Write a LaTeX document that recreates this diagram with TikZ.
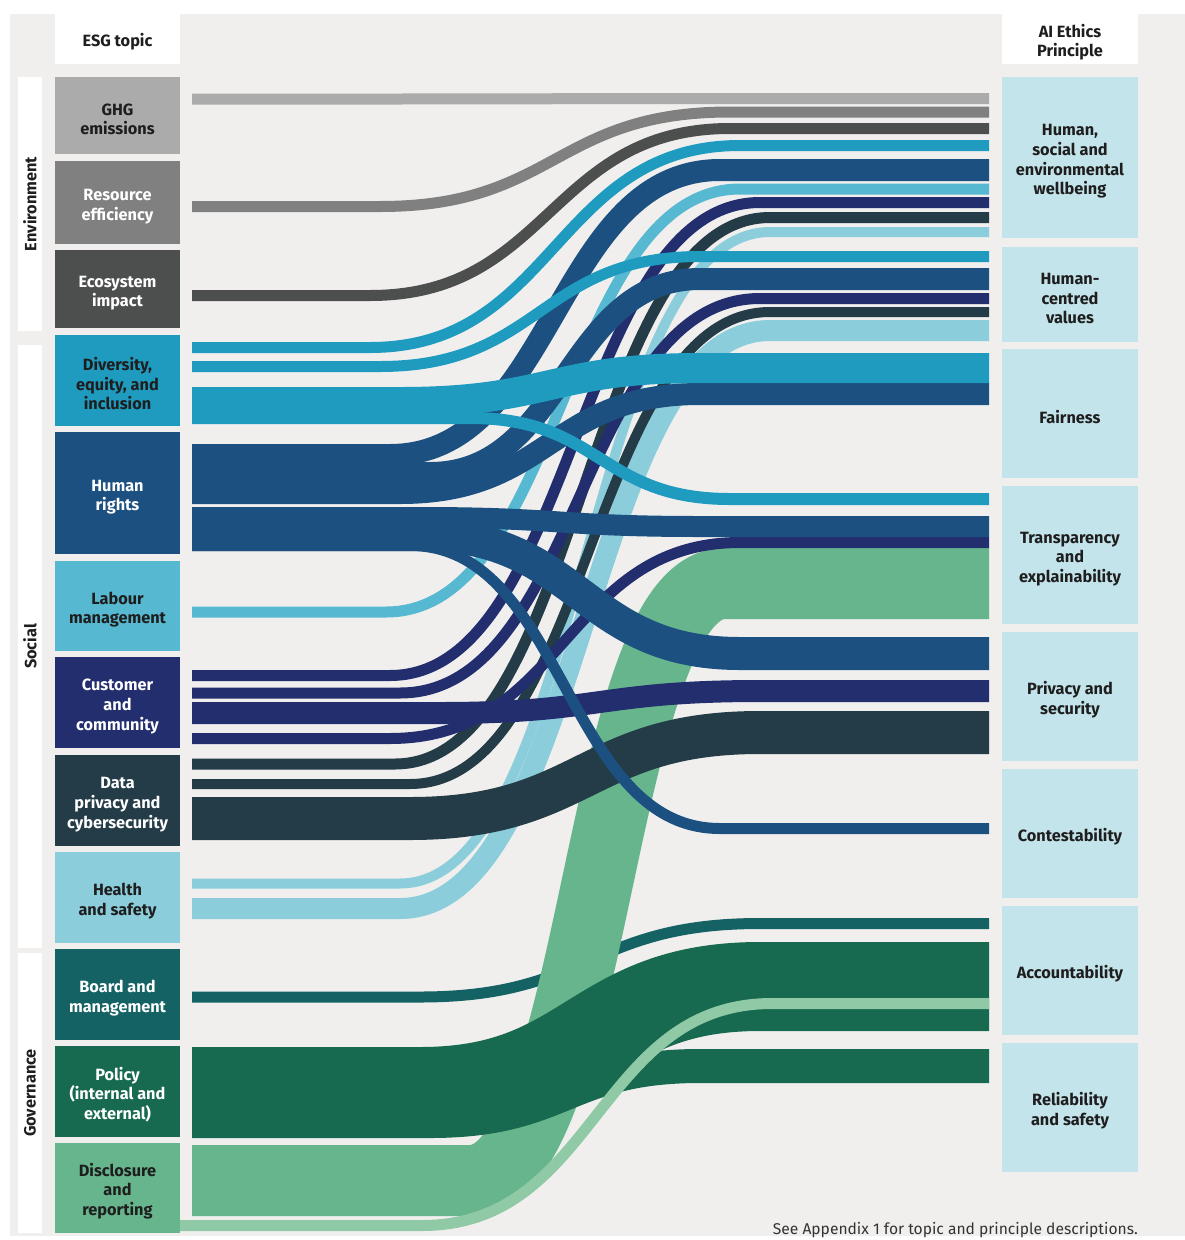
\documentclass[tikz,border=0pt]{standalone}
\usepackage{fontspec}
\setmainfont{Fira Sans}
\definecolor{bgc}{HTML}{F0EFEE}
\definecolor{ghgc}{HTML}{ABABAB}
\definecolor{resc}{HTML}{808080}
\definecolor{ecoc}{HTML}{4D4F4E}
\definecolor{deic}{HTML}{1F9BC0}
\definecolor{hrc}{HTML}{1C5080}
\definecolor{labc}{HTML}{56B9D1}
\definecolor{custc}{HTML}{232E6F}
\definecolor{datac}{HTML}{243C48}
\definecolor{hsc}{HTML}{8CCDDC}
\definecolor{boardc}{HTML}{156265}
\definecolor{polc}{HTML}{176A4F}
\definecolor{discc}{HTML}{67B58C}
\definecolor{disclc}{HTML}{90C9A6}
\definecolor{princc}{HTML}{C4E4EB}
\definecolor{txtc}{HTML}{1E1E1E}
\newcommand\sflow[7][192]{%
  \draw[line width=#3, #2] (#1,#4) -- (#6,#4) .. controls ({(#6+#7)/2},#4) and ({(#6+#7)/2},#5) .. (#7,#5) -- (989,#5);}
\newcommand\tp{\rule{0pt}{19.5pt}}
\begin{document}
\begin{tikzpicture}[x=1pt,y=-1pt,
  lbl/.style={font=\bfseries\fontsize{16.3}{19.7}\selectfont, align=center},
  topic/.style={lbl, rectangle, inner sep=0pt, minimum width=125pt},
  princ/.style={lbl, rectangle, fill=princc, inner sep=0pt, minimum width=136pt, text=txtc},
  strip/.style={lbl, rectangle, fill=white, inner sep=0pt, rotate=90, minimum height=24pt, text=txtc}
]
\useasboundingbox (0,0) rectangle (1185,1240);
\fill[white] (0,0) rectangle (1185,1240);
\fill[bgc] (10,14) rectangle (1185,1236);

% header boxes
\node[lbl, fill=white, minimum width=125pt, minimum height=50pt, inner sep=0pt, text=txtc] (esghead) at (117.5,39) {\tp ESG topic};
\node[lbl, fill=white, minimum width=136pt, minimum height=50pt, inner sep=0pt, text=txtc] (aihead) at (1070,39) {\tp AI Ethics\\Principle};

% category strips
\node[strip, minimum width=254pt] (env) at (30,204) {Environment};
\node[strip, minimum width=603pt] (soc) at (30,646.5) {Social};
\node[strip, minimum width=280pt] (gov) at (30,1093) {Governance};

% flows (bottom to top)
\sflow{boardc}{11}{997}{923.5}{420}{760}
\sflow{discc}{71}{1180.5}{583.5}{470}{725}
\sflow{hsc}{21}{908.5}{330.5}{400}{770}
\sflow{hsc}{10}{883.5}{232}{400}{770}
\sflow{labc}{11}{612}{189}{386}{740}
\sflow{datac}{11}{764}{217.5}{395}{770}
\sflow{datac}{10}{784}{312}{410}{770}
\sflow{custc}{11}{675.5}{202.5}{390}{760}
\sflow{custc}{11}{693}{298.5}{400}{760}
\sflow{custc}{11}{738.5}{542.5}{390}{740}
\sflow{hrc}{22}{455}{170}{390}{720}
\sflow{hrc}{22}{473}{279}{430}{700}
\sflow{hrc}{22}{493}{394}{400}{700}
\sflow{hrc}{21}{517.5}{526.5}{420}{700}
\sflow{hrc}{33}{534.5}{653.5}{420}{740}
\sflow{deic}{11}{366.5}{256.5}{380}{700}
\sflow{deic}{11}{347.5}{145.5}{370}{740}
\sflow{datac}{43}{818.5}{732.5}{410}{760}
\sflow{custc}{22}{713}{691}{440}{760}
\sflow{deic}{30}{402}{368}{400}{700}
\sflow{deic}{12}{418}{499}{470}{730}
\sflow{hrc}{11}{545.5}{828.5}{410}{720}
\sflow{polc}{89}{1091.5}{986.5}{420}{760}
\sflow{polc}{34}{1121}{1066}{430}{700}
\sflow[180]{disclc}{11}{1225.5}{1003.5}{422}{772}
\sflow{ghgc}{11}{99}{98.5}{400}{700}
\sflow{resc}{11}{206.5}{112}{380}{730}
\sflow{ecoc}{11}{295.5}{128.5}{370}{730}

% topic boxes
\node[topic, fill=ghgc, text=txtc, minimum height=77pt] (ghg) at (117.5,115.5) {\tp GHG\\emissions};
\node[topic, fill=resc, text=white, minimum height=83pt] (res) at (117.5,202.5) {\tp Resource\\efficiency};
\node[topic, fill=ecoc, text=white, minimum height=78pt] (eco) at (117.5,289) {\tp Ecosystem\\impact};
\node[topic, fill=deic, text=txtc, minimum height=91pt] (dei) at (117.5,380.5) {\tp Diversity,\\equity, and\\inclusion};
\node[topic, fill=hrc, text=white, minimum height=122pt] (hr) at (117.5,493) {\tp Human\\rights};
\node[topic, fill=labc, text=txtc, minimum height=90pt] (lab) at (117.5,606) {\tp Labour\\management};
\node[topic, fill=custc, text=white, minimum height=91pt] (cust) at (117.5,702.5) {\tp Customer\\and\\community};
\node[topic, fill=datac, text=white, minimum height=91pt] (data) at (117.5,800.5) {\tp Data\\privacy and\\cybersecurity};
\node[topic, fill=hsc, text=txtc, minimum height=91pt] (hs) at (117.5,897.5) {\tp Health\\and safety};
\node[topic, fill=boardc, text=white, minimum height=91pt] (board) at (117.5,994.5) {\tp Board and\\management};
\node[topic, fill=polc, text=white, minimum height=91pt] (pol) at (117.5,1091.5) {\tp Policy\\(internal and\\external)};
\node[topic, fill=discc, text=txtc, minimum height=90pt] (disc) at (117.5,1188) {\tp Disclosure\\and\\reporting};

% principle boxes
\node[princ, minimum height=161pt] (hsew) at (1070,157.5) {\tp Human,\\social and\\environmental\\wellbeing};
\node[princ, minimum height=95pt] (hcv) at (1070,294.5) {\tp Human-\\centred\\values};
\node[princ, minimum height=129pt] (fair) at (1070,413.5) {\tp Fairness};
\node[princ, minimum height=138pt] (trans) at (1070,555) {\tp Transparency\\and\\explainability};
\node[princ, minimum height=129pt] (priv) at (1070,696.5) {\tp Privacy and\\security};
\node[princ, minimum height=129pt] (cont) at (1070,833.5) {\tp Contestability};
\node[princ, minimum height=129pt] (acc) at (1070,970.5) {\tp Accountability};
\node[princ, minimum height=129pt] (rel) at (1070,1107.5) {\tp Reliability\\and safety};

% footnote
\node[anchor=base east, inner sep=0pt, font=\fontsize{15.6}{18}\selectfont, text=black!80] (note) at (1138,1234) {See Appendix 1 for topic and principle descriptions.};
\end{tikzpicture}
\end{document}
